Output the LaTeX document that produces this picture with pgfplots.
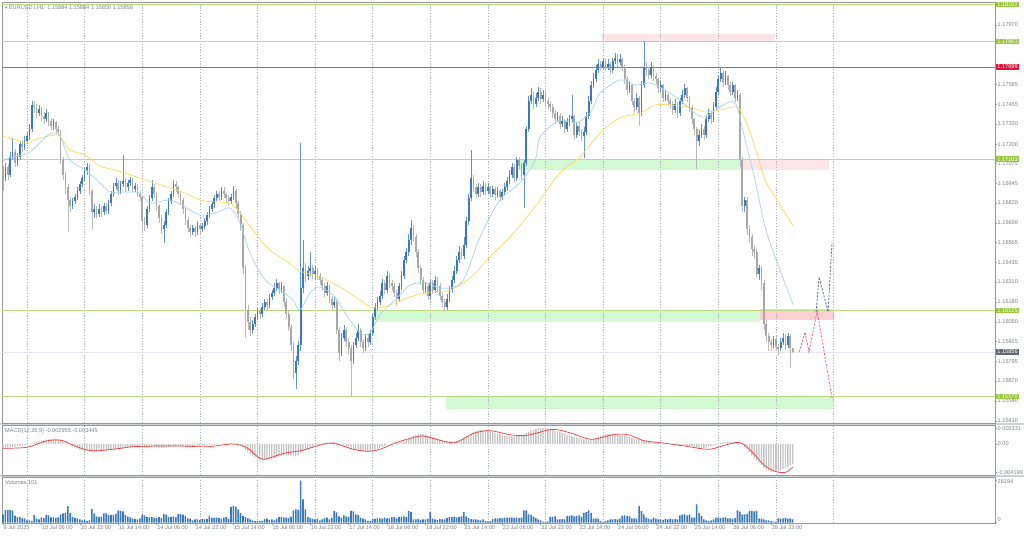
\documentclass[border=0pt]{standalone}
\usepackage{fontspec}
\setmainfont{Liberation Sans}
\newfontfamily\symfont{DejaVu Sans}
\usepackage{pgfplots}
\usepackage{pgfplotstable}
\pgfplotsset{compat=1.18}

\definecolor{bull}{RGB}{58,122,186}
\definecolor{bear}{RGB}{168,168,168}
\definecolor{lvl}{RGB}{188,218,128}
\definecolor{lvlred}{RGB}{210,80,104}
\definecolor{zgreen}{RGB}{210,249,210}
\definecolor{zpink}{RGB}{253,230,234}
\definecolor{zred}{RGB}{250,208,210}
\definecolor{sepc}{RGB}{172,178,190}
\definecolor{maslow}{RGB}{255,216,90}
\definecolor{mafast}{RGB}{160,214,240}
\definecolor{tagg}{RGB}{152,198,62}
\definecolor{tagr}{RGB}{222,20,58}
\definecolor{tagk}{RGB}{96,104,116}
\definecolor{txt}{RGB}{120,128,140}
\definecolor{frame}{RGB}{150,152,156}
\definecolor{gap}{RGB}{206,209,214}
\definecolor{sig}{RGB}{240,60,60}
\definecolor{hist}{RGB}{196,196,196}
\definecolor{pdash}{RGB}{242,100,140}
\definecolor{sdash}{RGB}{98,110,150}
\definecolor{cur}{RGB}{232,232,248}

\newcommand\lab{\fontsize{5.6pt}{6.5pt}\selectfont}

% prices in pips above 1.15000, one row per H1 bar (row index = bar)
% o h l c, volume in hundreds, MACD main in 1e-5
\pgfplotstableread{
o h l c v m
203 206 190 198 50 -55
198 208 196 205 78 -52
205 207 197 200 80 -50
200 215 199 212 78 -48
212 224 210 215 76 -44
215 217 205 208 44 -40
208 214 206 212 35 -35
212 222 210 220 35 -30
220 223 215 218 27 -25
218 225 216 222 27 -18
222 228 220 225 15 -10
225 233 223 230 15 -2
230 248 228 245 12 10
245 248 240 244 48 22
244 246 237 240 25 32
240 245 238 243 20 42
243 244 235 238 33 50
238 241 233 236 28 57
236 243 234 240 48 63
240 241 232 235 46 68
235 237 229 232 33 72
232 236 229 234 33 75
234 235 227 230 30 75
230 232 225 228 33 72
228 229 207 210 52 65
210 212 197 200 58 50
200 202 188 192 60 30
192 194 163 184 104 10
184 186 176 180 62 -10
180 185 178 183 37 -30
183 188 181 186 30 -50
186 192 184 190 27 -65
190 196 188 194 20 -80
194 200 192 198 15 -95
198 205 196 203 18 -105
203 208 200 205 12 -110
205 207 187 190 15 -112
190 191 165 176 85 -113
176 181 172 178 58 -112
178 180 172 175 40 -110
175 181 173 178 37 -108
178 180 173 176 37 -105
176 182 174 180 58 -100
180 182 175 177 58 -98
177 184 175 182 48 -95
182 190 180 188 48 -90
188 195 186 193 48 -85
193 198 191 195 55 -80
195 197 187 190 75 -75
190 196 188 194 75 -70
194 213 192 196 70 -65
196 198 189 192 48 -60
192 197 190 195 40 -56
195 199 193 197 33 -52
197 198 189 191 25 -48
191 195 189 193 22 -45
193 194 186 188 20 -42
188 190 183 186 27 -45
186 187 163 170 48 -50
170 173 164 168 45 -55
168 180 166 178 37 -58
178 187 176 185 33 -55
185 197 183 192 35 -50
192 194 185 188 30 -48
188 189 177 180 28 -50
180 181 169 172 35 -55
172 174 162 165 30 -60
165 170 156 168 54 -58
168 178 166 176 50 -52
176 185 174 183 37 -45
183 190 181 188 37 -40
188 197 186 194 40 -35
194 196 189 192 35 -33
192 193 185 188 54 -35
188 190 181 184 54 -38
184 185 175 178 50 -42
178 179 168 171 42 -45
171 173 163 166 27 -48
166 168 160 163 25 -50
163 168 161 166 15 -48
166 167 160 163 20 -45
163 170 161 168 20 -40
168 169 162 165 18 -35
165 169 163 167 22 -30
167 172 165 170 20 -26
170 176 168 174 22 -22
174 180 172 178 42 -18
178 183 176 181 31 -14
181 187 179 185 30 -10
185 190 183 188 31 -6
188 190 183 186 28 -3
186 192 184 190 25 0
190 192 185 188 31 3
188 189 182 185 35 5
185 187 180 183 25 8
183 188 181 186 98 10
186 193 184 190 104 10
190 191 179 182 100 5
182 183 172 175 83 -5
175 177 164 168 60 -20
168 169 136 140 42 -50
140 142 95 113 35 -90
113 116 100 105 28 -125
105 108 96 100 20 -155
100 106 98 104 15 -180
104 110 102 108 10 -200
108 114 106 112 10 -215
112 114 107 110 10 -228
110 117 108 115 12 -235
115 120 113 118 22 -237
118 120 113 116 25 -235
116 123 114 121 18 -230
121 126 119 124 20 -222
124 130 122 127 15 -212
127 133 125 130 25 -200
130 131 123 126 35 -188
126 131 124 128 35 -178
128 129 115 118 33 -172
118 120 107 110 31 -170
110 112 99 102 30 -172
102 104 86 90 38 -178
90 92 68 72 77 -185
72 83 62 80 83 -180
80 93 77 90 80 -170
90 221 86 127 262 -140
127 158 124 140 146 -115
140 143 131 135 83 -95
135 141 132 138 35 -78
138 150 135 140 30 -62
140 142 133 136 25 -48
136 141 133 138 21 -35
138 140 132 135 25 -22
135 137 129 132 15 -12
132 134 125 128 20 -2
128 130 121 124 28 8
124 131 122 128 31 16
128 129 117 120 20 22
120 122 113 116 30 26
116 121 114 118 73 28
118 119 97 100 65 22
100 102 80 85 40 10
85 98 83 95 31 -5
95 103 93 100 46 -20
100 102 89 92 40 -35
92 95 84 88 35 -50
88 90 57 80 73 -65
80 92 78 90 70 -78
90 98 88 95 52 -90
95 104 93 100 48 -100
100 101 89 92 31 -108
92 94 85 88 25 -112
88 97 86 95 20 -115
95 97 89 92 12 -113
92 100 90 98 10 -108
98 110 96 108 25 -98
108 117 106 115 22 -85
115 121 113 118 27 -72
118 125 116 122 27 -58
122 133 120 130 25 -44
130 132 123 126 31 -32
126 138 124 135 27 -18
135 137 127 130 27 -8
130 132 125 128 35 2
128 130 121 124 35 10
124 126 116 120 27 16
120 130 118 128 35 24
128 138 126 135 38 32
135 148 133 145 40 45
145 153 143 150 35 60
150 162 148 158 73 78
158 171 155 166 68 98
166 168 157 160 20 118
160 162 147 150 20 135
150 152 137 140 22 145
140 142 129 132 18 150
132 134 123 126 20 148
126 131 124 128 20 140
128 130 119 122 25 128
122 133 120 130 66 115
130 132 123 126 25 102
126 135 124 132 20 90
132 134 125 128 18 78
128 130 119 122 22 66
122 124 115 118 20 56
118 120 112 115 20 48
115 123 113 120 28 42
120 128 118 126 35 38
126 135 124 132 35 35
132 141 130 138 38 36
138 148 136 145 33 42
145 154 143 150 35 55
150 153 145 148 40 70
148 160 146 155 66 88
155 173 153 170 40 108
170 188 168 185 30 130
185 216 183 198 22 155
198 200 189 192 20 175
192 194 185 188 20 190
188 195 186 192 18 202
192 194 186 189 15 212
189 196 187 193 20 218
193 195 187 190 10 215
190 195 188 192 8 205
192 193 185 188 10 195
188 193 186 191 22 182
191 192 184 187 27 168
187 192 185 190 25 155
190 191 183 186 30 142
186 191 184 189 27 132
189 195 187 192 31 124
192 199 190 196 31 118
196 203 194 200 31 114
200 208 198 205 33 112
205 207 195 198 30 112
198 212 196 210 31 115
210 212 203 206 28 120
206 208 197 200 31 128
200 210 179 208 77 140
208 232 206 230 77 160
230 251 228 248 52 180
248 256 246 252 48 200
252 254 243 246 38 215
246 253 244 250 30 225
250 257 248 254 20 232
254 256 246 249 15 236
249 255 247 252 6 237
252 254 245 248 6 235
248 250 243 246 8 230
246 248 241 244 37 222
244 246 237 240 37 212
240 242 233 236 40 200
236 241 234 238 20 188
238 240 230 233 20 175
233 238 231 235 22 162
235 236 227 230 20 150
230 237 228 234 42 138
234 239 232 236 42 126
236 252 234 238 45 115
238 239 223 226 40 104
226 234 224 232 42 94
232 234 225 228 45 85
228 230 222 225 38 76
225 231 211 228 62 68
228 241 226 238 66 62
238 251 236 248 77 60
248 261 246 258 62 65
258 266 256 262 25 78
262 271 260 268 27 95
268 275 266 272 25 112
272 274 267 270 12 126
270 276 268 274 6 138
274 275 267 270 10 146
270 275 268 272 15 150
272 273 265 268 20 152
268 276 266 274 20 150
274 279 272 276 22 148
276 278 270 273 20 145
273 278 271 275 25 140
275 276 267 270 42 132
270 271 259 262 45 122
262 264 252 255 42 112
255 261 253 258 40 102
258 259 245 248 27 92
248 250 240 244 27 82
244 253 242 250 25 74
250 251 232 240 104 64
240 261 238 258 73 58
258 287 256 270 52 56
270 273 264 268 31 52
268 270 262 265 25 46
265 273 263 270 20 40
270 271 261 264 31 34
264 266 259 262 25 28
262 263 253 256 20 22
256 261 254 258 20 16
258 259 247 250 18 10
250 255 248 252 22 5
252 253 245 248 20 0
248 250 243 246 25 -5
246 248 239 242 20 -10
242 249 240 246 22 -15
246 247 237 240 20 -20
240 250 238 248 46 -22
248 255 246 252 50 -24
252 259 250 256 52 -25
256 257 247 250 46 -28
250 251 241 244 50 -33
244 245 233 236 31 -40
236 237 226 230 31 -48
230 231 204 222 114 -55
222 229 219 226 62 -60
226 233 224 230 42 -60
230 232 223 226 20 -58
226 239 224 236 15 -52
236 243 234 240 10 -45
240 242 233 236 15 -36
236 247 234 244 20 -25
244 257 242 254 31 -12
254 265 252 262 31 0
262 270 260 266 28 12
266 268 257 260 31 22
260 267 258 264 33 28
264 265 255 258 27 33
258 260 251 254 27 35
254 260 252 258 25 35
258 259 247 250 28 32
250 255 248 252 77 28
252 253 205 210 69 15
210 212 176 180 52 -10
180 186 176 184 52 -45
184 186 161 165 55 -85
165 168 156 160 73 -125
160 162 148 152 73 -165
152 155 146 150 70 -205
150 152 134 136 73 -245
136 142 132 140 27 -280
140 141 126 130 25 -315
130 132 100 104 20 -350
104 106 92 96 15 -380
96 98 86 92 15 -400
92 94 86 90 12 -415
90 96 88 94 6 -420
94 96 86 89 6 -418
89 91 84 88 27 -410
88 95 86 92 25 -395
92 98 90 95 27 -375
95 97 87 90 30 -355
90 98 88 96 25 -335
96 97 75 88.4 27 -315
88.4 88.4 85 85.6 20 -296
}\bars

\pgfplotstableread{
i p
0 225.2
7 222.0
10 220.7
15.4 224.0
21.7 225.9
23.75 225.2
27.9 216.2
34.2 213.0
40.4 205.8
46.7 203.3
57 198.1
63.3 194.9
69.6 191.7
75.8 188.4
82 183.9
88.3 182.6
94.6 181.9
98.75 175.5
105 162.6
111.25 151.5
117.5 145.1
123.75 138.0
132 134.1
140.4 127.7
148.75 119.2
154.2 114.1
161.25 116.0
169.6 121.2
177.9 124.4
186.25 125.7
194.6 133.4
202.9 147.1
211.25 159.9
219.6 175.5
223.75 183.9
232 201.4
240.4 211.7
248.75 227.2
257 236.9
265.4 240.1
271.7 245.3
277.9 245.3
286.25 244.0
292.5 240.8
298.75 242.1
305.8 244.0
309.2 235.6
313.3 218.2
317.5 196.8
321.7 185.8
329.2 167.1
}\maslow

\pgfplotstableread{
i p
0 209.0
2.9 211.2
10 213.8
13.3 217.8
19.6 226.7
23.75 225.0
27.9 209.8
34.2 203.3
40.4 194.9
44.6 189.1
50.8 189.1
57 188.4
61.25 181.9
69.6 183.9
75.8 179.4
82 174.2
88.3 175.5
94.6 178.7
98.75 169.0
102.9 149.6
109.2 132.2
115.4 125.7
120.8 119.2
123.75 112.8
127.9 123.8
132 127.7
138.3 121.2
142.5 110.9
148.75 97.9
152.9 97.9
157 109.6
163.3 119.2
169.6 128.9
175.8 130.3
182 127.0
188.3 127.7
192.5 134.1
198.75 160.0
207 183.9
215.4 194.9
221.7 209.7
223.75 224.6
232 235.6
238.3 233.6
244.6 240.1
248.75 253.0
257 261.5
263.3 258.2
269.6 259.5
275.8 255.0
282 248.5
288.3 240.1
292.5 237.5
298.75 244.0
305 246.6
309.2 222.7
313.3 196.8
317.5 166.5
321.7 147.1
329.2 116.0
}\mafast

\pgfplotstableread{
i s
0 -64
10 -49
17 35
21 59
25 49
29 -15
35 -89
40 -99
49 -64
54 -40
65 -30
76 -32
85 -42
96 0
102 -64
108 -225
117 -138
124 -99
129 -49
135 10
139 0
146 -79
152 -108
157 -79
165 35
174 118
179 84
188 20
196 158
203 197
212 133
219 133
229 217
237 158
245 69
255 143
261 133
267 49
274 20
284 -30
294 -79
301 -15
307 20
312 -113
317 -311
322 -410
326 -420
329 -345
}\signal

\pgfplotsset{
  mt/.style={scale only axis, width=993pt, xmin=-0.42, xmax=413.3,
    axis line style={draw=frame, line width=0.6pt},
    clip mode=individual, xtick=\empty,
    ytick pos=right, yticklabels={}, tick align=outside,
    major tick length=2pt, tick style={draw=frame, line width=0.4pt}},
  wick/.style={draw=none, mark=none, forget plot, error bars/.cd, y dir=both, y explicit,
    error mark=none, error bar style={draw=#1, line width=0.55pt}},
  body/.style={draw=none, mark=none, forget plot, error bars/.cd, y dir=both, y explicit,
    error mark=none, error bar style={draw=#1, line width=1.75pt}},
}
\tikzset{
  sep/.style={draw=sepc, line width=0.45pt, dash pattern=on 1.2pt off 1.6pt},
  plab/.style={anchor=west, xshift=2.2pt, font=\lab, text=txt, inner sep=0.3pt},
  tag/.style={anchor=west, xshift=0.6pt, font=\lab, text=white, inner xsep=1.6pt, inner ysep=0.7pt},
}
\newcommand\seps{\pgfplotsinvokeforeach{10,34,58,82,106,130,154,178,202,226,250,274,298,322,346}{%
  \draw[sep] ({axis cs:##1,0}|-{rel axis cs:0,0}) -- ({axis cs:##1,0}|-{rel axis cs:0,1});}}
\newcommand\hl[3][0.8pt]{\draw[#2, line width=#1] ({rel axis cs:0,0}|-{axis cs:0,#3}) -- ({rel axis cs:1,0}|-{axis cs:0,#3});}
\newcommand\pl[2]{\node[plab] at (axis cs:413.3,#1) {#2};}

\begin{document}
\begin{tikzpicture}[x=1pt,y=1pt]
\fill[white] (0,0) rectangle (1024,537);
\fill[gap] (0,112) rectangle (1024,114.3);
\fill[gap] (0,60) rectangle (1024,62.3);

% ---------- price panel ----------
\begin{axis}[mt, at={(2pt,535pt)}, anchor=north west, height=421pt,
  ymin=39.73, ymax=311.9,
  ytick={297,258.5,245.5,233,220,207.5,194.5,182,169,156.5,143.5,131,118,105,92.5,79.5,67,54,41}]

\fill[zpink] (axis cs:249.2,286.0) rectangle (axis cs:321.7,291.2);
\fill[zgreen] (axis cs:215.4,203.3) rectangle (axis cs:307.1,210.4);
\fill[zpink] (axis cs:307.1,203.3) rectangle (axis cs:344.2,210.4);
\fill[zgreen] (axis cs:155,105.0) rectangle (axis cs:315.4,112.1);
\fill[zred] (axis cs:315.4,106.3) rectangle (axis cs:346.25,113.4);
\fill[zgreen] (axis cs:184.6,48.8) rectangle (axis cs:346.25,56.5);

\seps
\hl[1.1pt]{lvl}{310.2}
\hl{lvl}{286.3}
\hl{lvlred}{269.9}
\hl{lvl}{210.3}
\hl{lvl}{112.5}
\hl{lvl}{57.0}
\hl[0.6pt]{cur}{85.6}

\addplot[wick=bull!80] table[x expr=\coordindex,
  y expr={\thisrow{c}>=\thisrow{o} ? 0.5*(\thisrow{h}+\thisrow{l}) : nan},
  y error expr={0.5*(\thisrow{h}-\thisrow{l})}] {\bars};
\addplot[wick=bear!80] table[x expr=\coordindex,
  y expr={\thisrow{c}<\thisrow{o} ? 0.5*(\thisrow{h}+\thisrow{l}) : nan},
  y error expr={0.5*(\thisrow{h}-\thisrow{l})}] {\bars};
\addplot[body=bull] table[x expr=\coordindex,
  y expr={\thisrow{c}>=\thisrow{o} ? 0.5*(\thisrow{o}+\thisrow{c}) : nan},
  y error expr={0.5*abs(\thisrow{c}-\thisrow{o})}] {\bars};
\addplot[body=bear] table[x expr=\coordindex,
  y expr={\thisrow{c}<\thisrow{o} ? 0.5*(\thisrow{o}+\thisrow{c}) : nan},
  y error expr={0.5*abs(\thisrow{c}-\thisrow{o})}] {\bars};

\addplot[maslow, line width=0.7pt, smooth, mark=none] table[x=i, y=p] {\maslow};
\addplot[mafast, line width=0.7pt, smooth, mark=none] table[x=i, y=p] {\mafast};

\addplot[pdash, line width=0.8pt, dash pattern=on 2.2pt off 1.4pt, mark=none]
  coordinates {(331.7,85.6) (334.2,98.6) (335.8,85.6) (339.2,112.1) (345.4,55.9)};
\addplot[sdash, line width=0.8pt, dash pattern=on 2.2pt off 1.4pt, mark=none]
  coordinates {(338.75,111.5) (340,134.1) (343.75,111.5) (345.4,156.7)};

\pl{297}{1.17970}\pl{258.5}{1.17585}\pl{245.5}{1.17455}\pl{233}{1.17330}
\pl{220}{1.17200}\pl{207.5}{1.17075}\pl{194.5}{1.16945}\pl{182}{1.16820}
\pl{169}{1.16690}\pl{156.5}{1.16565}\pl{143.5}{1.16435}\pl{131}{1.16310}
\pl{118}{1.16180}\pl{105}{1.16050}\pl{92.5}{1.15925}\pl{79.5}{1.15795}
\pl{67}{1.15670}\pl{54}{1.15540}\pl{41}{1.15410}
\node[tag, fill=tagg] at (axis cs:413.3,310.2) {1.18102};
\node[tag, fill=tagg] at (axis cs:413.3,286.3) {1.17863};
\node[tag, fill=tagr] at (axis cs:413.3,269.9) {1.17699};
\node[tag, fill=tagg] at (axis cs:413.3,210.3) {1.17103};
\node[tag, fill=tagg] at (axis cs:413.3,112.5) {1.16125};
\node[tag, fill=tagk] at (axis cs:413.3,85.6) {1.15856};
\node[tag, fill=tagg] at (axis cs:413.3,57.0) {1.15570};

\node[anchor=north west, font=\lab, text=txt, inner sep=0pt] at ([xshift=3pt, yshift=-3pt]rel axis cs:0,1)
  {{\symfont\fontsize{4.5pt}{5pt}\selectfont ▾}\ EURUSD.i,H1\ \ 1.15884 1.15884 1.15850 1.15856};
\end{axis}

% ---------- MACD panel ----------
\begin{axis}[mt, at={(2pt,112pt)}, anchor=north west, height=50pt,
  ymin=-460, ymax=282, ytick={233.1,0,-419.9}]
\seps
\addplot[ybar, bar width=1.3pt, fill=hist, draw=none] table[x expr=\coordindex, y=m] {\bars};
\addplot[sig, line width=0.7pt, smooth, mark=none] table[x=i, y=s] {\signal};
\pl{233.1}{0.002331}\pl{0}{0.00}\pl{-419.9}{-0.004199}
\node[anchor=north west, font=\lab, text=txt, inner sep=0pt] at ([xshift=3pt, yshift=-3pt]rel axis cs:0,1)
  {MACD(12,26,9) -0.002955 -0.003445};
\end{axis}

% ---------- volume panel ----------
\begin{axis}[mt, at={(2pt,60pt)}, anchor=north west, height=46pt,
  ymin=-1.9, ymax=285, ytick={0,261.94},
  xtick={0,16,...,320}, xtick pos=left,
  xticklabels={9 Jul 2025,10 Jul 06:00,10 Jul 22:00,11 Jul 14:00,14 Jul 06:00,14 Jul 22:00,
    15 Jul 14:00,16 Jul 06:00,16 Jul 22:00,17 Jul 14:00,18 Jul 06:00,18 Jul 22:00,
    21 Jul 14:00,22 Jul 06:00,22 Jul 22:00,23 Jul 14:00,24 Jul 06:00,24 Jul 22:00,
    25 Jul 14:00,28 Jul 06:00,28 Jul 22:00},
  xticklabel style={anchor=north west, font=\lab, text=txt, inner sep=0.5pt}]
\seps
\addplot[ybar, bar width=1.6pt, fill=bull, draw=none] table[x expr=\coordindex, y=v] {\bars};
\pl{254}{26194}\pl{21}{0}
\node[anchor=north west, font=\lab, text=txt, inner sep=0pt] at ([xshift=3pt, yshift=-3pt]rel axis cs:0,1)
  {Volumes 101};
\end{axis}

\pgfresetboundingbox
\useasboundingbox (0,0) rectangle (1024,537);
\end{tikzpicture}
\end{document}
